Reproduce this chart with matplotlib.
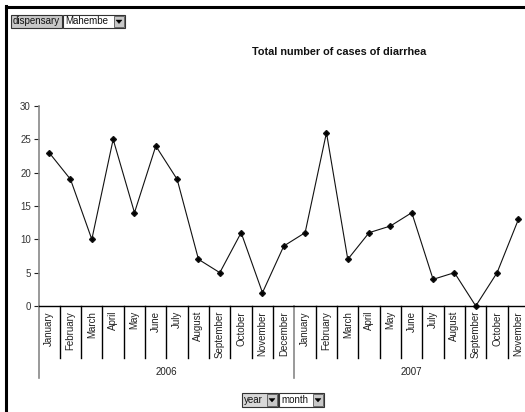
import matplotlib
matplotlib.use("Agg")
import matplotlib.pyplot as plt
from matplotlib.patches import Rectangle, Polygon
from matplotlib.lines import Line2D

plt.rcParams["font.family"] = ["Liberation Sans", "DejaVu Sans"]

W, H = 525, 412

years = ["2006", "2007"]
months_2006 = ["January", "February", "March", "April", "May", "June", "July",
               "August", "September", "October", "November", "December"]
months_2007 = ["January", "February", "March", "April", "May", "June", "July",
               "August", "September", "October", "November"]
cases_2006 = [23, 19, 10, 25, 14, 24, 19, 7, 5, 11, 2, 9]
cases_2007 = [11, 26, 7, 11, 12, 14, 4, 5, 0, 5, 13]
y_ticks = [0, 5, 10, 15, 20, 25, 30]


def px(x, y):
    # pixel position (from top-left) to figure fraction
    return x / W, 1 - y / H


def button(fig, x0, x1, y0, y1, label, fc, arrow=True):
    fx, fy = px(x0, y1)
    fig.patches.append(Rectangle((fx, fy), (x1 - x0) / W, (y1 - y0) / H,
                                 transform=fig.transFigure, fc=fc, ec="#333333",
                                 lw=0.8))
    fig.text((x0 + 2) / W, 1 - (y0 + y1) / 2 / H, label, fontsize=7,
             ha="left", va="center", color="#111111")
    if arrow:
        ax0 = x1 - 11
        fx, fy = px(ax0, y1 - 1)
        fig.patches.append(Rectangle((fx, fy), 10 / W, (y1 - y0 - 2) / H,
                                     transform=fig.transFigure, fc="#c8c8c8",
                                     ec="#555555", lw=0.6))
        cx, cy = ax0 + 5, (y0 + y1) / 2
        tri = [px(cx - 3, cy - 1.5), px(cx + 3, cy - 1.5), px(cx, cy + 2)]
        fig.patches.append(Polygon(tri, closed=True, transform=fig.transFigure,
                                   fc="black", ec="black", lw=0.3))


fig = plt.figure(figsize=(W / 100, H / 100), dpi=100)
fig.patch.set_facecolor("white")

# frame lines at the top and left
fig.lines.append(Line2D([6 / W, 6 / W], [0, 1 - 6 / H], transform=fig.transFigure,
                        color="black", lw=2.2))
fig.lines.append(Line2D([6 / W, 1], [1 - 7 / H, 1 - 7 / H], transform=fig.transFigure,
                        color="black", lw=2.2))

n = len(cases_2006) + len(cases_2007)
cell = 21.33
left, bottom, top = 38.5, 306, 106
ax = fig.add_axes([left / W, 1 - bottom / H, n * cell / W, (bottom - top) / H])

values = cases_2006 + cases_2007
xs = [i + 0.5 for i in range(n)]
ax.plot(xs, values, color="#111111", lw=0.8, marker="D", markersize=3.0,
        markerfacecolor="black", clip_on=False)

ax.set_xlim(0, n)
ax.set_ylim(0, 30)
ax.set_yticks(y_ticks)
ax.tick_params(axis="y", length=3.5, width=0.8, color="#222222", pad=2,
               labelsize=7, labelcolor="#333333")
ax.set_xticks([])
for side in ["top", "right"]:
    ax.spines[side].set_visible(False)
ax.spines["left"].set_color("#888888")
ax.spines["left"].set_linewidth(1.2)
ax.spines["bottom"].set_color("black")
ax.spines["bottom"].set_linewidth(1.0)

trans = ax.get_xaxis_transform()
span = bottom - top
labels = months_2006 + months_2007
for i, name in enumerate(labels):
    ax.text(i + 0.5, -5 / span, name, transform=trans, rotation=90,
            ha="center", va="top", fontsize=7, color="#222222")

# category separators
for k in range(1, n + 1):
    if k == len(cases_2006):
        continue
    ax.plot([k, k], [0, -52 / span], transform=trans, color="black", lw=1.0,
            clip_on=False)
# year separators
for k in [0, len(cases_2006)]:
    ax.plot([k, k], [0, -72 / span], transform=trans, color="#888888", lw=1.2,
            clip_on=False)

ax.text(len(cases_2006) / 2, -66 / span, years[0], transform=trans, ha="center",
        va="center", fontsize=7, color="#222222")
ax.text(len(cases_2006) + len(cases_2007) / 2, -66 / span, years[1],
        transform=trans, ha="center", va="center", fontsize=7, color="#222222")

fig.text(339 / W, 1 - 52 / H, "Total number of cases of diarrhea", ha="center",
         va="center", fontsize=7.8, fontweight="bold", color="#111111")

button(fig, 11, 62, 15, 28, "dispensary", "#c8c8c8", arrow=False)
button(fig, 63, 125, 15, 28, "Mahembe", "white")
button(fig, 242, 278, 393, 407, "year", "#d8d8d8")
button(fig, 279, 324, 393, 407, "month", "white")

fig.savefig("out.png", dpi=100)
